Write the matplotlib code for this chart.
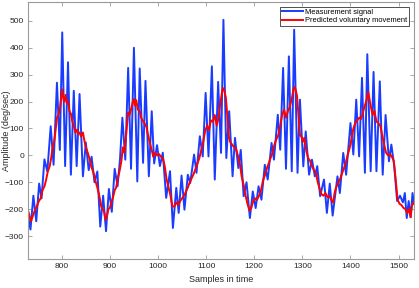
import matplotlib
matplotlib.use("Agg")
import matplotlib.pyplot as plt

# measurement signal: sample index / amplitude at each swing of the tremor
blue_x = [730, 735, 741, 747, 753, 758, 764, 770, 777, 783, 790, 796, 801, 807,
          813, 819, 825, 831, 837, 844, 850, 856, 862, 868, 874, 880, 886, 892,
          898, 904, 910, 916, 921, 926, 932, 938, 944, 950, 957, 962, 969, 974,
          981, 987, 992, 998, 1004, 1010, 1017, 1025, 1031, 1038, 1043, 1049,
          1055, 1062, 1067, 1075, 1080, 1087, 1093, 1099, 1105, 1112, 1118,
          1125, 1131, 1136, 1142, 1148, 1155, 1160, 1167, 1172, 1178, 1184,
          1191, 1197, 1203, 1209, 1215, 1222, 1228, 1236, 1241, 1249, 1254,
          1260, 1266, 1272, 1278, 1283, 1290, 1295, 1302, 1307, 1314, 1320,
          1326, 1331, 1337, 1345, 1351, 1357, 1363, 1373, 1378, 1385, 1391,
          1400, 1406, 1412, 1418, 1424, 1430, 1435, 1442, 1448, 1454, 1461,
          1467, 1473, 1480, 1485, 1491, 1497, 1503, 1509, 1513, 1517, 1521,
          1525, 1529, 1532]
blue_y = [-225, -276, -150, -245, -105, -160, -15, -60, 108, -35, 270, 20, 457,
          -40, 346, -72, 240, -40, 228, -78, 48, -55, -5, -100, -60, -265, -150,
          -282, -125, -210, -50, -115, -15, 140, -16, 325, -50, 400, -97, 323,
          -28, 277, -78, 164, -30, 38, -40, 10, -158, -59, -270, -121, -214,
          -75, -202, -72, -103, 3, -65, 71, -4, 232, -4, 331, -90, 273, 9, 504,
          -10, 164, -78, 65, -47, 20, -152, -100, -233, -134, -196, -115, -165,
          -35, -90, 46, -16, 151, 21, 325, -50, 368, -59, 467, -65, 207, -41,
          89, -72, -16, -78, -40, -152, -90, -214, -105, -224, -78, -140, 9,
          -72, 120, 3, 207, -4, 288, -65, 376, -59, 310, -59, 275, -72, 150,
          -22, 40, -40, -170, -150, -175, -140, -233, -170, -230, -140, -180]

# predicted voluntary movement
red_x = [730, 733, 736, 740, 744, 748, 752, 756, 760, 764, 767, 771, 775, 778,
         781, 784, 787, 790, 793, 796, 799, 801, 803, 805, 808, 810, 813, 816,
         819, 822, 825, 828, 831, 834, 837, 840, 844, 847, 850, 854, 858, 862,
         866, 870, 874, 878, 882, 885, 888, 891, 894, 897, 900, 903, 906, 910,
         913, 917, 920, 924, 927, 930, 933, 936, 938, 941, 944, 947, 950, 952,
         955, 958, 962, 965, 968, 972, 976, 980, 984, 987, 990, 994, 998, 1002,
         1006, 1010, 1014, 1018, 1022, 1026, 1030, 1034, 1038, 1042, 1046,
         1050, 1054, 1058, 1062, 1066, 1070, 1074, 1078, 1082, 1086, 1090,
         1094, 1098, 1102, 1106, 1110, 1114, 1118, 1122, 1126, 1130, 1133,
         1135, 1138, 1141, 1144, 1147, 1150, 1154, 1158, 1162, 1166, 1170,
         1174, 1178, 1182, 1186, 1190, 1194, 1198, 1202, 1206, 1210, 1214,
         1218, 1222, 1226, 1230, 1234, 1238, 1242, 1246, 1250, 1254, 1258,
         1262, 1266, 1270, 1274, 1278, 1281, 1283, 1286, 1289, 1292, 1295,
         1298, 1301, 1304, 1308, 1312, 1316, 1320, 1324, 1328, 1332, 1336,
         1340, 1344, 1348, 1352, 1356, 1360, 1364, 1367, 1370, 1374, 1378,
         1382, 1386, 1390, 1394, 1398, 1402, 1406, 1410, 1414, 1418, 1422,
         1426, 1430, 1434, 1437, 1440, 1443, 1446, 1450, 1454, 1458, 1462,
         1466, 1470, 1474, 1478, 1482, 1486, 1490, 1494, 1498, 1502, 1506,
         1510, 1514, 1518, 1522, 1525, 1528, 1532]
red_y = [-205, -225, -245, -225, -205, -190, -172, -160, -130, -115, -95, -60,
         -40, -10, 30, 50, 90, 140, 150, 170, 220, 245, 215, 200, 225, 195, 200,
         165, 155, 125, 110, 85, 95, 80, 85, 70, 85, 55, 30, 10, -15, -45, -65,
         -95, -120, -150, -190, -200, -210, -240, -225, -200, -195, -175, -160,
         -130, -120, -80, -60, -20, 30, 10, 60, 120, 160, 150, 170, 195, 210,
         185, 205, 170, 165, 140, 130, 120, 105, 70, 40, 20, -5, 10, 0, 5, -5,
         -10, -40, -90, -120, -150, -190, -190, -175, -185, -170, -160, -150,
         -135, -120, -100, -85, -70, -50, -30, -10, 20, 50, 90, 110, 95, 130,
         125, 150, 110, 140, 200, 235, 250, 240, 215, 150, 70, 50, 40, 30, 25,
         0, -30, -80, -110, -150, -180, -205, -195, -170, -160, -165, -150,
         -130, -95, -75, -50, -30, -10, 10, 40, 60, 75, 110, 150, 170, 140, 165,
         180, 210, 240, 255, 245, 220, 150, 75, 70, 50, 65, 20, -10, -20, -40,
         -55, -65, -100, -125, -145, -150, -140, -155, -150, -165, -175, -140,
         -120, -105, -90, -70, -50, -30, 0, 25, 60, 100, 120, 130, 140, 135,
         160, 185, 210, 235, 205, 175, 150, 165, 125, 120, 110, 75, 40, 10, 0,
         5, -5, -20, -90, -165, -180, -185, -195, -200, -215, -200, -230, -185,
         -175]

plt.rcParams["font.family"] = ["Liberation Sans", "DejaVu Sans"]

fig = plt.figure(figsize=(4.19, 2.88), dpi=100)
ax = fig.add_axes([0.067, 0.101, 0.921, 0.892])

ax.plot(blue_x, blue_y, color="#1a3cff", lw=1.4, label="Measurement signal")
ax.plot(red_x, red_y, color="#ff0000", lw=1.4, label="Predicted voluntary movement")

ax.set_xlim(730, 1532)
ax.set_ylim(-385, 570)
ax.set_xticks([800, 900, 1000, 1100, 1200, 1300, 1400, 1500])
ax.set_yticks([-300, -200, -100, 0, 100, 200, 300, 400, 500])

ax.tick_params(direction="in", length=3, width=0.6, labelsize=6,
               colors="#9a9a9a", labelcolor="#262626", top=True, right=True,
               pad=3)
for s in ax.spines.values():
    s.set_color("#9a9a9a")
    s.set_linewidth(0.8)

ax.set_xlabel("Samples in time", fontsize=6.5, color="#262626", va="center")
ax.set_ylabel("Amplitude (deg/sec)", fontsize=6.5, color="#262626", va="center")
ax.xaxis.set_label_coords(0.5, -0.082)
ax.yaxis.set_label_coords(-0.056, 0.5)

leg = ax.legend(loc="upper right", fontsize=5.4, handlelength=2.8,
                handletextpad=0.3, labelspacing=0.2, borderpad=0.25,
                borderaxespad=0.6, fancybox=False, framealpha=1)
leg.get_frame().set_edgecolor("#333333")
leg.get_frame().set_linewidth(0.6)

fig.savefig("out.png", dpi=100)
